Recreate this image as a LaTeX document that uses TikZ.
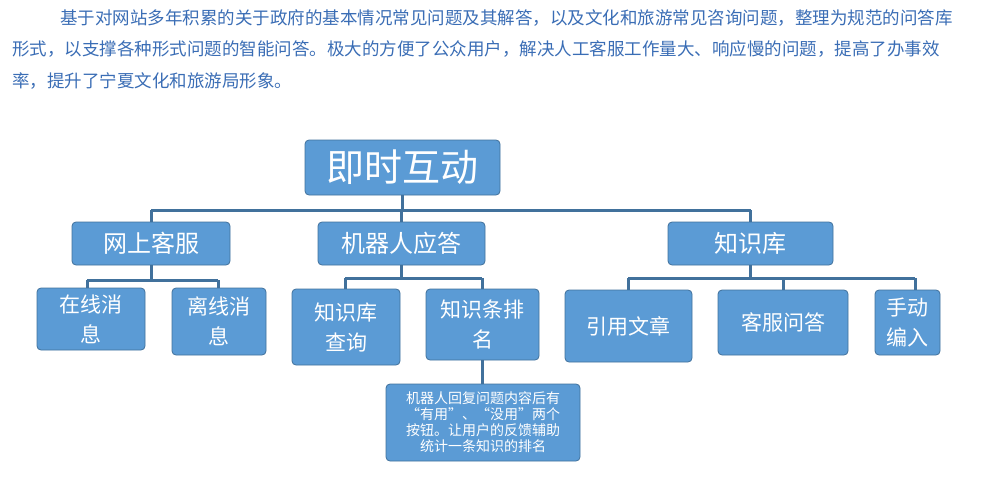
\documentclass[tikz,border=0pt]{standalone}
\usepackage{fontspec}
\setmainfont{Noto Sans CJK SC}
\begin{document}
\begin{tikzpicture}[x=1pt,y=-1pt]
\definecolor{fillb}{HTML}{5B9BD5}
\definecolor{edgeb}{HTML}{41719C}
\definecolor{txtb}{HTML}{3A6DB5}
\tikzset{
 bx/.style={draw=edgeb,line width=0.8pt,fill=fillb,rounded corners=4pt,text=white,align=center,inner sep=0pt},
 ln/.style={draw=edgeb,line width=3pt},
 para/.style={anchor=west,text=txtb,font=\fontsize{17.5}{20}\selectfont,inner sep=0pt}
}
\useasboundingbox (0,0) rectangle (1000,476);
\node[para] (p1) at (60,18) {基于对网站多年积累的关于政府的基本情况常见问题及其解答，以及文化和旅游常见咨询问题，整理为规范的问答库};
\node[para] (p2) at (12,49) {形式，以支撑各种形式问题的智能问答。极大的方便了公众用户，解决人工客服工作量大、响应慢的问题，提高了办事效};
\node[para] (p3) at (12,81) {率，提升了宁夏文化和旅游局形象。};
\newcommand{\bxat}[7]{\node[bx,minimum width=#3pt,minimum height=#4pt,font=\fontsize{#5}{#6}\selectfont] (#1) at #2 {#7};}
\node[bx,minimum width=195pt,minimum height=55pt,font=\fontsize{38}{40}\selectfont] (top) at (402.5,167.5) {即时互动};
\bxat{a}{(151,243.5)}{158}{43}{24}{30}{网上客服}
\bxat{b}{(401.5,243.5)}{167}{43}{24}{30}{机器人应答}
\bxat{c}{(750.5,243.5)}{165}{43}{24}{30}{知识库}
\bxat{a1}{(91,319)}{108}{62}{21}{30}{在线消\\息}
\bxat{a2}{(219,321.5)}{94}{67}{21}{30}{离线消\\息}
\bxat{b1}{(346,327)}{108}{76}{21}{30}{知识库\\查询}
\bxat{b2}{(482.5,324.5)}{113}{71}{21}{30}{知识条排\\名}
\bxat{c1}{(628.5,326)}{127}{72}{21}{30}{引用文章}
\bxat{c2}{(783,322.5)}{130}{65}{21}{30}{客服问答}
\bxat{c3}{(907.5,322.5)}{65}{65}{21}{30}{手动\\编入}
\node[bx,minimum width=194pt,minimum height=77pt,font=\fontsize{14}{16}\selectfont] (note) at (483,422.5) {机器人回复问题内容后有\\“有用”、“没用”两个\\按钮。让用户的反馈辅助\\统计一条知识的排名};
\coordinate (h0) at (0,210);
\draw[ln] (top.south) -- (top.south |- h0);
\draw[ln] (a.north |- h0) -- (c.north |- h0);
\draw[ln] (a.north |- h0) -- (a.north);
\draw[ln] (b.north |- h0) -- (b.north);
\draw[ln] (c.north |- h0) -- (c.north);
\coordinate (h1) at (0,280);
\coordinate (ax1) at (87,0);\coordinate (ax2) at (218,0);
\draw[ln] (a.south) -- (a.south |- h1);
\draw[ln] (ax1 |- h1) -- (ax2 |- h1);
\draw[ln] (ax1 |- h1) -- (ax1 |- a1.north);
\draw[ln] (ax2 |- h1) -- (ax2 |- a2.north);
\coordinate (h2) at (0,278);
\coordinate (bx1) at (345,0);\coordinate (bx2) at (482,0);
\draw[ln] (b.south) -- (b.south |- h2);
\draw[ln] (bx1 |- h2) -- (bx2 |- h2);
\draw[ln] (bx1 |- h2) -- (bx1 |- b1.north);
\draw[ln] (bx2 |- h2) -- (bx2 |- b2.north);
\coordinate (cx1) at (628,0);\coordinate (cx3) at (915,0);
\draw[ln] (c.south) -- (c.south |- h2);
\draw[ln] (cx1 |- h2) -- (cx3 |- h2);
\draw[ln] (cx1 |- h2) -- (cx1 |- c1.north);
\draw[ln] (c2.north |- h2) -- (c2.north);
\draw[ln] (cx3 |- h2) -- (cx3 |- c3.north);
\draw[ln] (bx2 |- b2.south) -- (bx2 |- note.north);
\end{tikzpicture}
\end{document}
